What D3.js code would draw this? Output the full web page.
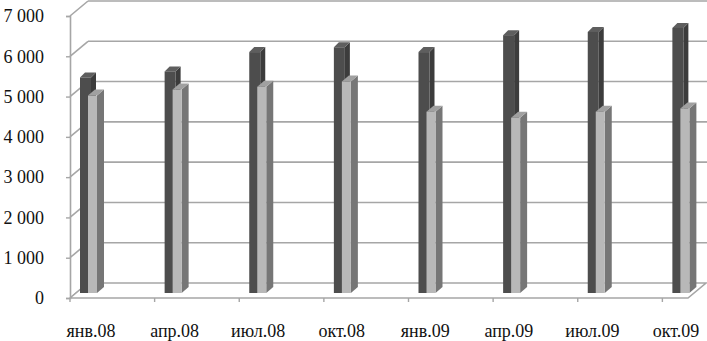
<!DOCTYPE html>
<html>
<head>
<meta charset="utf-8">
<script src="https://cdn.jsdelivr.net/npm/d3@7/dist/d3.min.js"></script>
<style>
  body { margin: 0; background: #fff; }
  svg text { font-family: "Liberation Serif", "DejaVu Serif", serif; fill: #111; }
</style>
</head>
<body>
<svg id="chart" width="707" height="341"></svg>
<script>
const categories = ['янв.08', 'апр.08', 'июл.08', 'окт.08', 'янв.09', 'апр.09', 'июл.09', 'окт.09']
const backSeries = [5350, 5500, 5980, 6100, 5980, 6400, 6480, 6580]
const frontSeries = [4900, 5050, 5120, 5250, 4500, 4350, 4500, 4580]
const yTicks = [0, 1000, 2000, 3000, 4000, 5000, 6000, 7000]

const svg = d3.select('#chart')

// depth of the whole plot box (front plane -> back wall)
const depth = {dx: 18, dy: -15}
const floorRight = 688

const y = d3.scaleLinear().domain([0, 7000]).range([298, 16])
const x = d3.scaleBand().domain(categories).range([70, 747])
const xLabel = d3.scalePoint().domain(categories).range([91, 676])

const grid = '#a6a6a6'

// back wall gridlines + side wall diagonals
const g = svg.append('g').attr('stroke', grid).attr('stroke-width', 1.6).attr('fill', 'none')
g.selectAll('line.back')
  .data(yTicks.slice(1))
  .join('line')
    .attr('x1', 70 + depth.dx).attr('x2', 707)
    .attr('y1', d => y(d) + depth.dy).attr('y2', d => y(d) + depth.dy)
g.selectAll('line.side')
  .data(yTicks)
  .join('line')
    .attr('x1', 70).attr('x2', 70 + depth.dx)
    .attr('y1', d => y(d)).attr('y2', d => y(d) + depth.dy)

// floor
g.append('path')
  .attr('fill', '#fff')
  .attr('d', d3.line()([[70, y(0)], [floorRight, y(0)], [floorRight + depth.dx, y(0) + depth.dy], [70 + depth.dx, y(0) + depth.dy], [70, y(0)]]))

// y axis
svg.append('g')
  .attr('transform', 'translate(70,0)')
  .attr('font-family', null)
  .call(d3.axisLeft(y).tickValues(yTicks).tickSize(4).tickPadding(22)
    .tickFormat(d => d3.format(',')(d).replace(',', ' ')))
  .call(a => a.attr('font-family', null).attr('font-size', null))
  .call(a => a.select('.domain').attr('stroke', grid).attr('stroke-width', 1.6))
  .call(a => a.selectAll('.tick line').attr('stroke', grid).attr('stroke-width', 1.4))
  .call(a => a.selectAll('text').attr('font-size', 18).attr('fill', '#111'))

// category ticks on the front floor edge
svg.append('g')
  .attr('stroke', grid).attr('stroke-width', 1.4)
  .selectAll('line')
  .data(categories)
  .join('line')
    .attr('x1', d => x(d)).attr('x2', d => x(d))
    .attr('y1', y(0)).attr('y2', y(0) + 4)

svg.append('g')
  .selectAll('text')
  .data(categories)
  .join('text')
    .attr('x', d => xLabel(d))
    .attr('y', 337)
    .attr('text-anchor', 'middle')
    .attr('font-size', 18)
    .text(d => d)

// 3d-looking bars
function drawBars(values, off, w, sdx, sdy, cols, baseDepth) {
  const base = y(0) + baseDepth
  const bars = svg.append('g')
    .selectAll('g')
    .data(values.map((v, i) => ({c: categories[i], v})))
    .join('g')
  bars.append('path')
    .attr('fill', cols.side)
    .attr('d', d => {
      const x0 = x(d.c) + off + w, top = base - (y(0) - y(d.v))
      return d3.line()([[x0, top], [x0 + sdx, top + sdy], [x0 + sdx, base + sdy], [x0, base]]) + 'Z'
    })
  bars.append('path')
    .attr('fill', cols.top)
    .attr('d', d => {
      const x0 = x(d.c) + off, top = base - (y(0) - y(d.v))
      return d3.line()([[x0, top], [x0 + w, top], [x0 + w + sdx, top + sdy], [x0 + sdx, top + sdy]]) + 'Z'
    })
  bars.append('rect')
    .attr('fill', cols.face)
    .attr('x', d => x(d.c) + off)
    .attr('y', d => base - (y(0) - y(d.v)))
    .attr('width', w)
    .attr('height', d => y(0) - y(d.v))
}

drawBars(backSeries, 10, 11, 5, -5, {face: '#4d4d4d', side: '#3c3c3c', top: '#5e5e5e'}, -5)
drawBars(frontSeries, 18, 9, 7, -6, {face: '#b8b8b8', side: '#767676', top: '#a0a0a0'}, -5)
</script>
</body>
</html>
